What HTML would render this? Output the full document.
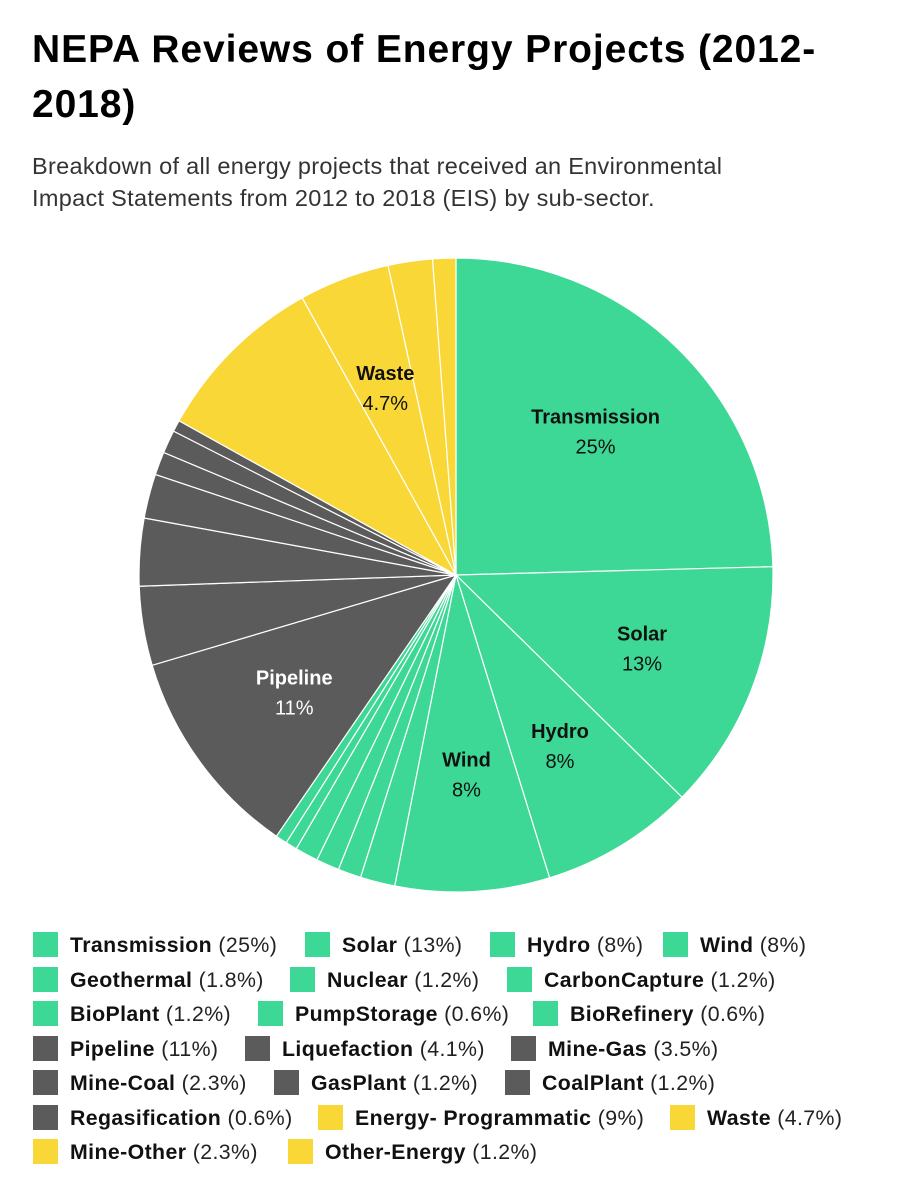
<!DOCTYPE html>
<html><head><meta charset="utf-8"><style>
body{margin:0;width:910px;height:1200px;background:#fff;font-family:"Liberation Sans",sans-serif;color:#000;position:relative;overflow:hidden}
h1{position:absolute;left:32px;top:22px;margin:0;font-size:39px;line-height:55px;font-weight:bold;width:830px;letter-spacing:0.9px}
.sub{position:absolute;left:32px;top:150px;font-size:23.5px;line-height:32px;color:#333;width:760px;letter-spacing:0.3px}
.li{position:absolute;font-size:21.3px;white-space:nowrap;color:#222;letter-spacing:0.4px}
.li b{color:#111}
.sw{display:inline-block;width:25px;height:25px;vertical-align:-5px;margin-right:12px}
</style></head><body>
<h1>NEPA Reviews of Energy Projects (2012-2018)</h1>
<div class="sub">Breakdown of all energy projects that received an Environmental Impact Statements from 2012 to 2018 (EIS) by sub-sector.</div>
<svg id="pie" width="910" height="1200" style="position:absolute;left:0;top:0"></svg>
<div id="legend"></div>
<script>
const categories=["Transmission","Solar","Hydro","Wind","Geothermal","Nuclear","CarbonCapture","BioPlant","PumpStorage","BioRefinery","Pipeline","Liquefaction","Mine-Gas","Mine-Coal","GasPlant","CoalPlant","Regasification","Energy- Programmatic","Waste","Mine-Other","Other-Energy"];
const values=[25,13,8,8,1.8,1.2,1.2,1.2,0.6,0.6,11,4.1,3.5,2.3,1.2,1.2,0.6,9,4.7,2.3,1.2];
const labels=["25%","13%","8%","8%","1.8%","1.2%","1.2%","1.2%","0.6%","0.6%","11%","4.1%","3.5%","2.3%","1.2%","1.2%","0.6%","9%","4.7%","2.3%","1.2%"];
const groups=["g","g","g","g","g","g","g","g","g","g","d","d","d","d","d","d","d","y","y","y","y"];
const shownLabels=["Transmission","Solar","Hydro","Wind","Pipeline","Waste"];
const colors={g:"#3dd895",d:"#5b5b5b",y:"#f8d737"};
const cx=456,cy=575,R=317,NS="http://www.w3.org/2000/svg";
const svg=document.getElementById('pie');
const gSlices=document.createElementNS(NS,'g');svg.appendChild(gSlices);
const gLabels=document.createElementNS(NS,'g');svg.appendChild(gLabels);
const total=values.reduce((a,b)=>a+b,0);
let acc=0;
function pt(a,r){return [cx+r*Math.sin(a),cy-r*Math.cos(a)];}
values.forEach((v,i)=>{
  const a0=acc/total*2*Math.PI;acc+=v;const a1=acc/total*2*Math.PI;
  const p0=pt(a0,R),p1=pt(a1,R);
  const p=document.createElementNS(NS,'path');
  p.setAttribute('d',`M${cx},${cy}L${p0[0]},${p0[1]}A${R},${R} 0 ${a1-a0>Math.PI?1:0} 1 ${p1[0]},${p1[1]}Z`);
  p.setAttribute('fill',colors[groups[i]]);p.setAttribute('stroke','#fff');p.setAttribute('stroke-width','1.2');
  
  
  gSlices.appendChild(p);
  if(shownLabels.includes(categories[i])){
    const m=pt((a0+a1)/2,200);
    const fill=groups[i]=='d'?'#fff':'#111';
    const t=document.createElementNS(NS,'text');
    t.setAttribute('x',m[0]);t.setAttribute('y',m[1]-8);t.setAttribute('text-anchor','middle');
    t.setAttribute('font-size','20');t.setAttribute('font-weight','bold');t.setAttribute('fill',fill);
    t.setAttribute('font-family','Liberation Sans, sans-serif');
    t.textContent=categories[i];
    
    
    gLabels.appendChild(t);
    const t2=document.createElementNS(NS,'text');
    t2.setAttribute('x',m[0]);t2.setAttribute('y',m[1]+22);t2.setAttribute('text-anchor','middle');
    t2.setAttribute('font-size','20');t2.setAttribute('fill',fill);
    t2.setAttribute('font-family','Liberation Sans, sans-serif');
    t2.textContent=labels[i];
    
    
    gLabels.appendChild(t2);
  }
});
const rows=[[0,1,2,3],[4,5,6],[7,8,9],[10,11,12],[13,14,15],[16,17,18],[19,20]];
const xs=[[33,305,490,663],[33,290,507],[33,258,533],[33,245,511],[33,274,505],[33,318,670],[33,288]];
const lg=document.getElementById('legend');
rows.forEach((r,ri)=>r.forEach((i,k)=>{
  const d=document.createElement('div');d.className='li';
  d.style.left=xs[ri][k]+'px';d.style.top=(932+ri*34.5)+'px';
  d.innerHTML=`<span class="sw" style="background:${colors[groups[i]]}"></span><b>${categories[i]}</b> (${labels[i]})`;
  
  
  lg.appendChild(d);
}));
</script>
</body></html>
